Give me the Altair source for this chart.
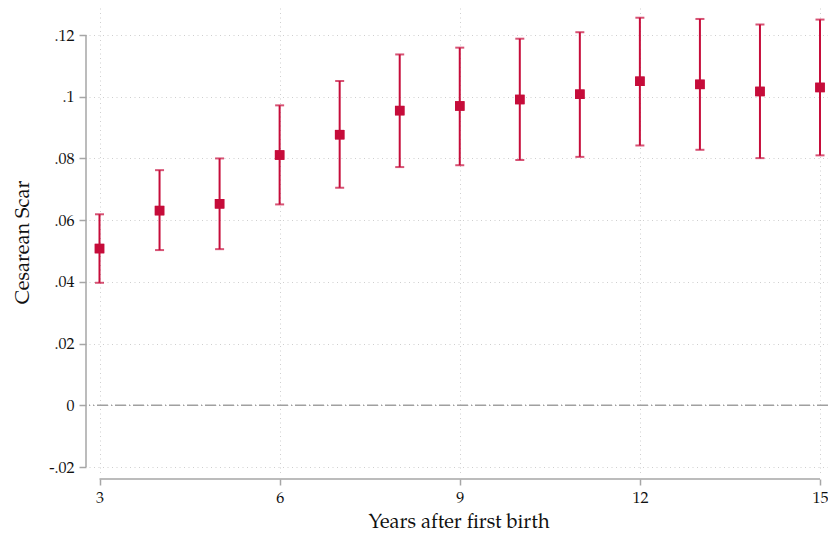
import altair as alt
import pandas as pd

years = [3, 4, 5, 6, 7, 8, 9, 10, 11, 12, 13, 14, 15]
coef = [0.0508, 0.0631, 0.0653, 0.0811, 0.0877, 0.0955, 0.0970, 0.0991, 0.1008, 0.1050, 0.1040, 0.1017, 0.1030]
upper = [0.0619, 0.0762, 0.0800, 0.0972, 0.1051, 0.1137, 0.1159, 0.1188, 0.1209, 0.1256, 0.1252, 0.1234, 0.1250]
lower = [0.0397, 0.0503, 0.0506, 0.0651, 0.0705, 0.0772, 0.0778, 0.0795, 0.0805, 0.0842, 0.0828, 0.0801, 0.0810]

x_ticks = [3, 6, 9, 12, 15]
y_ticks = [-0.02, 0, 0.02, 0.04, 0.06, 0.08, 0.1, 0.12]

df = pd.DataFrame({"year": years, "coef": coef, "hi": upper, "lo": lower})

RED = "#c60c3a"
AXIS_GRAY = "#a6a6a6"
GRID = "#cfcfcf"
FONT = "Palatino Linotype, Book Antiqua, Palatino, TeX Gyre Pagella, Liberation Serif, serif"

xscale = alt.Scale(domain=[2.8251, 15.1332], nice=False, zero=False)
yscale = alt.Scale(domain=[-0.02259, 0.12875], nice=False, zero=False)

xaxis = alt.Axis(
    values=x_ticks, format="d", title="Years after first birth", grid=True, gridDash=[1, 3.5],
    gridColor=GRID, gridWidth=1, domain=False, offset=4, tickSize=6, tickColor=AXIS_GRAY,
    tickWidth=1.5, labelFontSize=16, labelPadding=4, titleFontSize=20, titlePadding=6,
    titleFontWeight="normal", labelColor="#111", titleColor="#111",
)
yaxis = alt.Axis(
    values=y_ticks, title="Cesarean Scar", grid=True, gridDash=[1, 3.5],
    gridColor=GRID, gridWidth=1, domain=False, offset=3, tickSize=7, tickColor=AXIS_GRAY,
    tickWidth=1.5, labelFontSize=16, labelPadding=5, titleFontSize=20, titlePadding=16,
    titleFontWeight="normal", labelColor="#111", titleColor="#111", titleY=234,
    labelExpr="datum.value == 0 ? '0' : replace(replace(format(datum.value, '.2~f'), '0.', '.'), '\u2212', '-')",
)

base = alt.Chart(df)

points_layer = base.mark_square(size=90, color=RED, opacity=1).encode(
    x=alt.X("year:Q", scale=xscale, axis=xaxis),
    y=alt.Y("coef:Q", scale=yscale, axis=yaxis),
)
bars = base.mark_rule(color=RED, strokeWidth=2).encode(
    x=alt.X("year:Q", scale=xscale), y=alt.Y("lo:Q", scale=yscale), y2="hi:Q"
)
cap_hi = base.mark_tick(color=RED, orient="horizontal", size=9, thickness=2).encode(
    x=alt.X("year:Q", scale=xscale), y=alt.Y("hi:Q", scale=yscale)
)
cap_lo = base.mark_tick(color=RED, orient="horizontal", size=9, thickness=2).encode(
    x=alt.X("year:Q", scale=xscale), y=alt.Y("lo:Q", scale=yscale)
)

zero = alt.Chart(pd.DataFrame({"z": [0]})).mark_rule(
    color="#a0a0a0", strokeWidth=1.5, strokeDash=[11, 3, 1, 3]
).encode(y=alt.Y("z:Q", scale=yscale))

yline = alt.Chart(pd.DataFrame({"a": [y_ticks[0]], "b": [y_ticks[-1]]})).mark_rule(
    color=AXIS_GRAY, strokeWidth=1.5
).encode(x=alt.value(-3), y=alt.Y("a:Q", scale=yscale), y2="b:Q")

xline = alt.Chart(pd.DataFrame({"a": [x_ticks[0]], "b": [x_ticks[-1]]})).mark_rule(
    color=AXIS_GRAY, strokeWidth=1.5
).encode(y=alt.value(471), x=alt.X("a:Q", scale=xscale), x2="b:Q")

chart = alt.layer(points_layer, zero, yline, xline, bars, cap_hi, cap_lo, points_layer).properties(
    width=739, height=467,
    autosize=alt.AutoSizeParams(type="none"),
    padding={"left": 81, "top": 0, "right": 0, "bottom": 59},
).configure(font=FONT).configure_view(stroke=None)

chart.save("out.html", embed_options={"renderer": "svg", "actions": False})
